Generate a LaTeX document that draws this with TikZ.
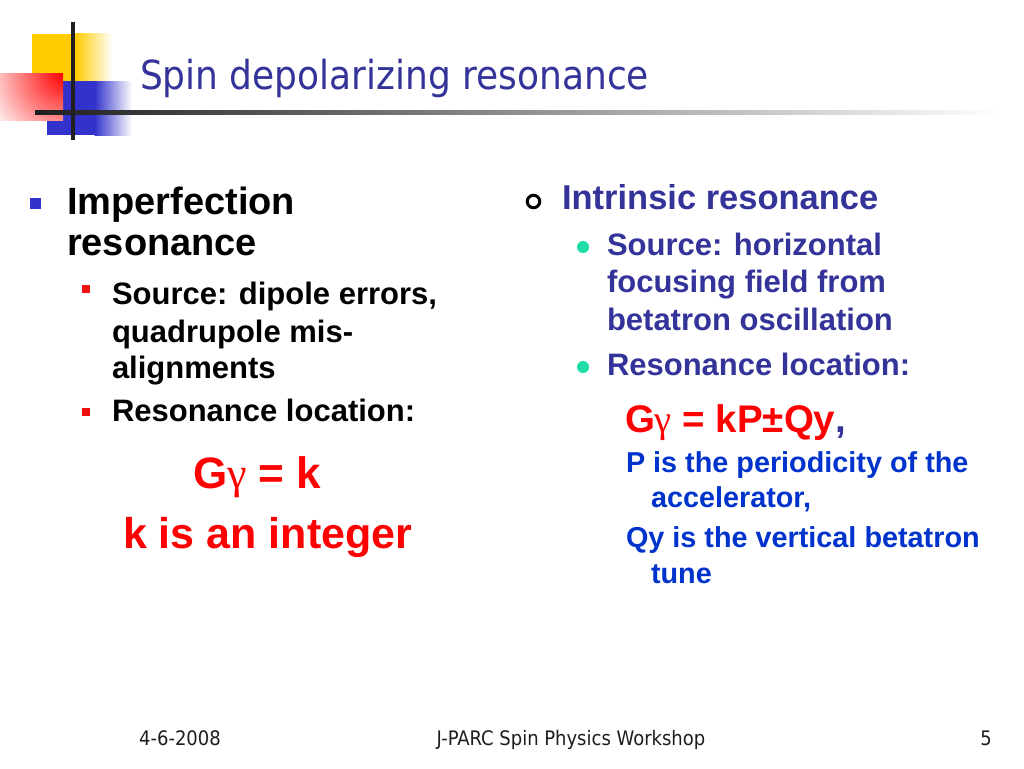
\documentclass[tikz,border=0pt]{standalone}
\usepackage{fontspec}
\setmainfont{Liberation Sans}
\newfontfamily\tahoma{DejaVu Sans Condensed}
\newfontfamily\greekf{Liberation Serif}
\usetikzlibrary{positioning}
\definecolor{titleblue}{RGB}{51,51,153}
\definecolor{bulblue}{RGB}{51,51,204}
\definecolor{bulred}{RGB}{238,17,17}
\definecolor{bulgreen}{RGB}{30,220,165}
\definecolor{txtblue}{RGB}{0,51,204}
\definecolor{txtred}{RGB}{255,0,0}
\definecolor{decoyellow}{RGB}{255,204,0}
\definecolor{decoblue}{RGB}{51,51,204}
\definecolor{footgray}{RGB}{30,30,30}
\newcommand{\gam}{{\greekf\mdseries γ}}
\tikzset{
  txt/.style={anchor=base west, inner sep=0pt, outer sep=0pt},
  lvlone/.style={txt, font=\bfseries\fontsize{38}{42}\selectfont},
  lvlonesmall/.style={txt, font=\bfseries\fontsize{34.5}{40}\selectfont, text=titleblue},
  lvltwo/.style={txt, font=\bfseries\fontsize{31}{37}\selectfont},
  subtxt/.style={txt, font=\bfseries\fontsize{28.8}{34}\selectfont, text=txtblue},
  foot/.style={anchor=base, inner sep=0pt, font=\tahoma\fontsize{20}{24}\selectfont, text=footgray},
  sqbullet/.style={minimum size=#1, inner sep=0pt, outer sep=0pt, draw=none, rectangle},
  dotbullet/.style={minimum size=12pt, inner sep=0pt, outer sep=0pt, circle, fill=bulgreen},
}
\begin{document}
\begin{tikzpicture}[x=1pt,y=-1pt]
\useasboundingbox (0,0) rectangle (1024,768);
\fill[white] (0,0) rectangle (1024,768);
% decoration
\fill[decoyellow] (32,34) rectangle (76,81);
\shade[left color=decoyellow, right color=white] (75.5,34) rectangle (112,81);
\fill[decoblue] (47,81) rectangle (95,135);
\shade[left color=decoblue, right color=white] (94.5,81) rectangle (132,135);
\begin{scope}
  \clip (0,73) rectangle (63,120);
  \shade[inner color=red, outer color=white] (63,73) circle (85pt);
\end{scope}
\shade[left color=black!88, middle color=black!45, right color=white] (35,110.5) rectangle (1000,114.5);
\fill[black!88] (70.5,22) rectangle (74.5,140);
% title
\node[txt, font=\tahoma\fontsize{40}{46}\selectfont, text=titleblue] (title) at (140,89) {Spin depolarizing resonance};
% left column
\node[sqbullet=11pt, fill=bulblue] (b1) at (35.5,203.5) {};
\node[lvlone] (imp1) at (67,214) {Imperfection};
\node[lvlone] (imp2) at (67,255) {resonance};
\node[sqbullet=8.5pt, fill=bulred] (b2) at (86,289) {};
\node[lvltwo] (ls1) at (112,304) {Source: dipole errors,};
\node[lvltwo] (ls2) at (112,342) {quadrupole mis-};
\node[lvltwo] (ls3) at (112,378) {alignments};
\node[sqbullet=8.5pt, fill=bulred] (b3) at (86,412) {};
\node[lvltwo] (lr1) at (112,421) {Resonance location:};
\node[txt, font=\bfseries\fontsize{44}{50}\selectfont, text=txtred] (leq) at (193,488) {G\gam{} = k};
\node[txt, font=\bfseries\fontsize{43}{50}\selectfont, text=txtred] (lint) at (123,548) {k is an integer};
% right column
\node[circle, draw=black, line width=3pt, minimum size=12.5pt, inner sep=0pt] (c1) at (533.5,201.5) {};
\node[lvlonesmall] (intr) at (562,209) {Intrinsic resonance};
\node[dotbullet] (d1) at (583,247) {};
\node[lvltwo, text=titleblue] (rs1) at (607,255) {Source: horizontal};
\node[lvltwo, text=titleblue] (rs2) at (607,292) {focusing field from};
\node[lvltwo, text=titleblue] (rs3) at (607,330) {betatron oscillation};
\node[dotbullet] (d2) at (583,367) {};
\node[lvltwo, text=titleblue] (rr1) at (607,375) {Resonance location:};
\node[txt, font=\bfseries\fontsize{38.5}{44}\selectfont, text=txtred] (req) at (625,432) {G\gam{} = kP±Qy\textcolor{titleblue}{,}};
\node[subtxt] (p1) at (626,472) {P is the periodicity of the};
\node[subtxt] (p2) at (651,507) {accelerator,};
\node[subtxt] (q1) at (626,547) {Qy is the vertical betatron};
\node[subtxt] (q2) at (651,583) {tune};
% footer
\node[foot] (date) at (180,745) {4-6-2008};
\node[foot] (conf) at (571,745) {J-PARC Spin Physics Workshop};
\node[foot] (page) at (986,745) {5};
\end{tikzpicture}
\end{document}
